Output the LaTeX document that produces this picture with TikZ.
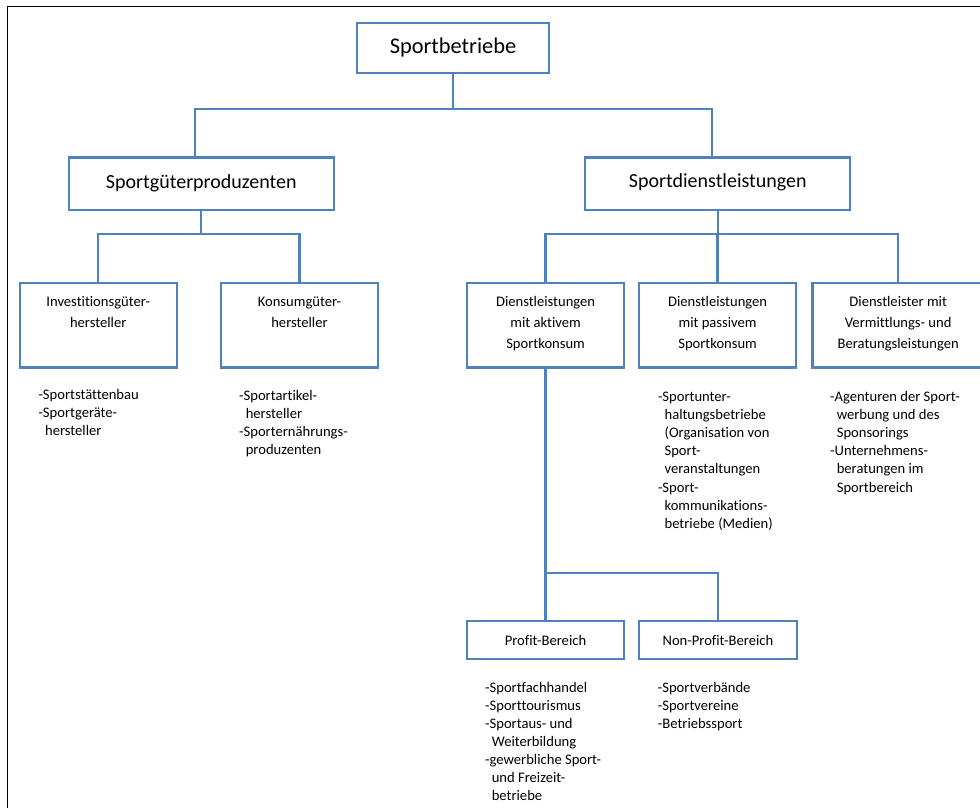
\documentclass[tikz,border=0pt]{standalone}
\usepackage{fontspec}
\setmainfont{Carlito}[Ligatures=NoCommon]
\definecolor{orgblue}{RGB}{79,129,189}

% stacked lines: first baseline is the node's base
\newcommand\boxlines[1]{\begin{tabular}[t]{@{}c@{}}#1\end{tabular}}
\newcommand\listlines[1]{\begin{tabular}[t]{@{}l@{}}#1\end{tabular}}
\newcommand\contline{\hspace*{6.6pt}}

\tikzset{
  orgbox/.style={draw=orgblue, line width=2.3pt, rectangle, inner sep=0pt, align=center},
  conn/.style={draw=orgblue, line width=2.3pt},
  boxtext/.style={inner sep=0pt, anchor=base, font=\fontsize{14.6}{21}\selectfont},
  listtext/.style={inner sep=0pt, anchor=base west, font=\fontsize{14.6}{18.2}\selectfont},
  smallbox/.style={orgbox, minimum height=84.5pt},
}

\begin{document}
\begin{tikzpicture}[x=1pt,y=-1pt]
\useasboundingbox (0,0) rectangle (980,808);
\clip (0,0) rectangle (980,808);

% page frame
\draw[line width=1.4pt] (7.7,6.7) rectangle (1000,830);

% top level
\node[orgbox, minimum width=192.5pt, minimum height=50pt, text height=12.6pt, text depth=0pt,
      font=\fontsize{22.4}{27}\selectfont] (sb) at (453,47.7) {Sportbetriebe};

% second level
\node[orgbox, minimum width=265.3pt, minimum height=52.7pt, text height=9pt, text depth=0pt,
      font=\fontsize{20}{24}\selectfont] (sgp) at (201.3,183.7) {Sportgüterproduzenten};
\node[orgbox, minimum width=265pt, minimum height=52.7pt, text height=8.5pt, text depth=0pt,
      font=\fontsize{20}{24}\selectfont] (sdl) at (717.8,183.7) {Sportdienstleistungen};

% third level boxes
\node[smallbox, minimum width=157pt]   (inv) at (98.2,325.25) {};
\node[smallbox, minimum width=157.6pt] (kon) at (299.5,325.25) {};
\node[smallbox, minimum width=157.4pt] (akt) at (545.6,325.25) {};
\node[smallbox, minimum width=156.8pt] (pas) at (717.6,325.25) {};
\node[smallbox, minimum width=171.7pt] (dl)  at (898.2,325.25) {};

\node[boxtext] (inv-t) at (98.2,306.7)  {\boxlines{Investitionsgüter-\\hersteller}};
\node[boxtext] (kon-t) at (299.5,306.7) {\boxlines{Konsumgüter-\\hersteller}};
\node[boxtext] (akt-t) at (545.6,306)   {\boxlines{Dienstleistungen\\mit aktivem\\Sportkonsum}};
\node[boxtext] (pas-t) at (717.6,306)   {\boxlines{Dienstleistungen\\mit passivem\\Sportkonsum}};
\node[boxtext] (dl-t)  at (898.2,306)   {\boxlines{Dienstleister mit\\Vermittlungs- und\\Beratungsleistungen}};

% fourth level
\node[orgbox, minimum width=157.6pt, minimum height=38pt, text height=10pt, text depth=0pt,
      font=\fontsize{14.6}{18}\selectfont] (pro) at (545.5,640) {Profit-Bereich};
\node[orgbox, minimum width=157.7pt, minimum height=38pt, text height=10pt, text depth=0pt,
      font=\fontsize{14.6}{18}\selectfont] (np) at (717.9,640) {Non-Profit-Bereich};

% item lists
\node[listtext] (inv-l) at (38.3,399.3) {\listlines{-Sportstättenbau\\-Sportgeräte-\\\contline hersteller}};
\node[listtext] (kon-l) at (239,400) {\listlines{-Sportartikel-\\\contline hersteller\\-Sporternährungs-\\\contline produzenten}};
\node[listtext] (pas-l) at (657.8,401) {\listlines{-Sportunter-\\\contline haltungsbetriebe\\\contline (Organisation von\\\contline Sport-\\\contline veranstaltungen\\-Sport-\\\contline kommunikations-\\\contline betriebe (Medien)}};
\node[listtext] (dl-l) at (830,401) {\listlines{-Agenturen der Sport-\\\contline werbung und des\\\contline Sponsorings\\-Unternehmens-\\\contline beratungen im\\\contline Sportbereich}};
\node[listtext, font=\fontsize{14.6}{18}\selectfont] (pro-l) at (485,692.5) {\listlines{-Sportfachhandel\\-Sporttourismus\\-Sportaus- und\\\contline Weiterbildung\\-gewerbliche Sport-\\\contline und Freizeit-\\\contline betriebe}};
\node[listtext, font=\fontsize{14.6}{18}\selectfont] (np-l) at (657.7,692.5) {\listlines{-Sportverbände\\-Sportvereine\\-Betriebssport}};

% connectors
\coordinate (j1) at (453,109.3);
\draw[conn] (sb.south) -- (j1);
\draw[conn] (j1) -| ([xshift=-6pt]sgp.north);
\draw[conn] (j1) -| ([xshift=-6pt]sdl.north);

\coordinate (j2) at (201.3,234.3);
\draw[conn] (sgp.south) -- (j2);
\draw[conn] (j2) -| (inv.north);
\draw[conn] (j2) -| (kon.north);

\coordinate (j3) at (717.8,234.3);
\draw[conn] (sdl.south) -- (j3);
\draw[conn] (j3) -| (akt.north);
\draw[conn] (j3) -| (pas.north);
\draw[conn] (j3) -| (dl.north);

\coordinate (j4) at (545.6,573.3);
\draw[conn] (akt.south) -- (j4);
\draw[conn] (j4) -| (pro.north);
\draw[conn] (j4) -| (np.north);
\end{tikzpicture}
\end{document}
